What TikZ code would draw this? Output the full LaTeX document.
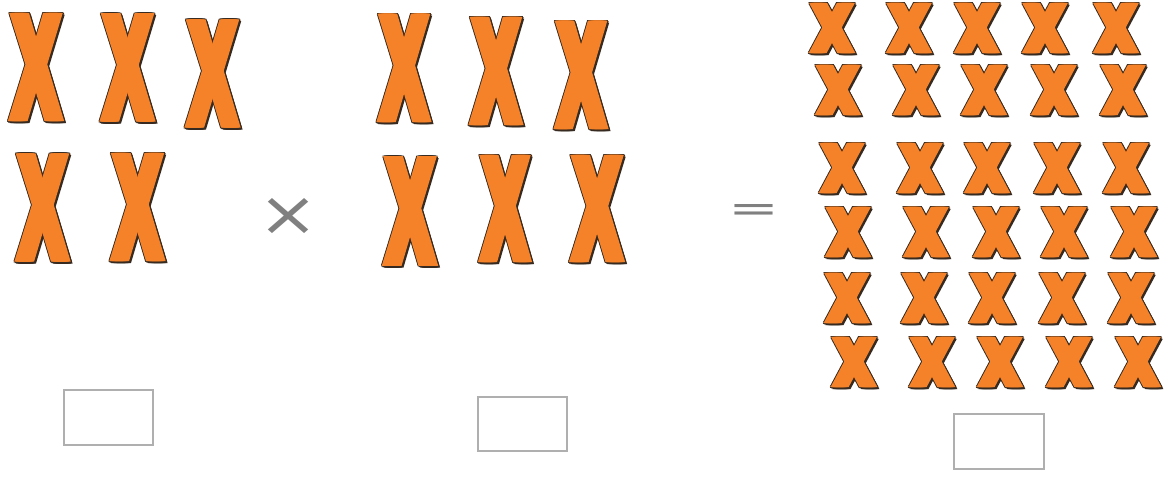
\documentclass[tikz,border=0pt]{standalone}
\usepackage{fontspec}
\setmainfont{Liberation Sans}
\newfontfamily\tallX{Liberation Sans Bold}[FakeBold=3.6]
\newfontfamily\wideX{DejaVu Sans Bold}[FakeBold=5]
\newfontfamily\signfont{DejaVu Sans}
\definecolor{xorange}{RGB}{245,130,40}
\definecolor{xdark}{RGB}{55,42,32}
\definecolor{signgray}{RGB}{128,128,128}
\definecolor{boxgray}{RGB}{175,175,175}
\tikzset{
  xface/.style={inner sep=0pt, outer sep=0pt, text=xorange},
  xshade/.style={inner sep=0pt, outer sep=0pt, text=xdark},
  answerbox/.style={draw=boxgray, line width=1.4pt, inner sep=0pt},
  signnode/.style={inner sep=0pt, text=signgray}
}
% name, x, y, w, h, font, horizontal spread
\newcommand\drawX[7]{%
  \foreach \sx [count=\j] in {-#7, -#7/2, 0, #7/2, #7}{%
    \foreach \dx/\dy [count=\k] in {1.9/1.9, 1.3/0.4, 0.4/1.3, -0.7/-0.7, 0.7/-0.7, -0.7/0.7}{%
      \node[xshade] (#1s\j-\k) at (#2+\sx+\dx,#3+\dy) {\resizebox{#4pt}{#5pt}{#6X}};}}
  \foreach \sx [count=\j] in {-#7, -#7/2, #7/2, #7}{%
    \node[xface] (#1f\j) at (#2+\sx,#3) {\resizebox{#4pt}{#5pt}{#6X}};}
  \node[xface] (#1) at (#2,#3) {\resizebox{#4pt}{#5pt}{#6X}};}
\begin{document}
\begin{tikzpicture}[x=1pt,y=-1pt]
\useasboundingbox[fill=white] (0,0) rectangle (1170,481);
% left group
\drawX{la}{36}{67}{47}{103}{\tallX}{3}
\drawX{lb}{127.5}{67.5}{47}{103}{\tallX}{3}
\drawX{lc}{212.5}{73.5}{47}{103}{\tallX}{3}
\drawX{ld}{42.5}{207.5}{47}{103}{\tallX}{3}
\drawX{le}{137.5}{207}{47}{103}{\tallX}{3}
% middle group
\drawX{ma}{404}{68}{46}{103}{\tallX}{3}
\drawX{mb}{496}{71}{46}{103}{\tallX}{3}
\drawX{mc}{581}{75}{46}{103}{\tallX}{3}
\drawX{md}{410}{211}{47}{104}{\tallX}{3}
\drawX{me}{505}{208.5}{45}{102}{\tallX}{3}
\drawX{mf}{597}{208.5}{47}{102}{\tallX}{3}
% right group: 6 rows x 5
\foreach \ry/\xa/\xb/\xc/\xd/\xe [count=\r] in {
  28/832/909/977/1045/1116,
  90/838/916/984/1054/1123,
  168/842/920/987/1057/1126,
  232/848/926/996/1064/1134,
  298/847/924/992/1062/1131,
  362/854/932/1000/1069/1138}{
  \foreach \cx [count=\c] in {\xa,\xb,\xc,\xd,\xe}{
    \drawX{r\r c\c}{\cx}{\ry}{39}{47}{\wideX}{2.5}
  }
}
% signs
\node[signnode] (times) at (288.5,216.5) {\resizebox{60pt}{37pt}{\signfont ×}};
\node[signnode] (equals) at (753.5,213.5) {\resizebox{51pt}{17pt}{\signfont =}};
% answer boxes
\node[answerbox, minimum width=89pt, minimum height=55pt] (boxa) at (108.5,417.5) {};
\node[answerbox, minimum width=89pt, minimum height=54pt] (boxb) at (522.5,424) {};
\node[answerbox, minimum width=90pt, minimum height=55pt] (boxc) at (999,441.5) {};
\end{tikzpicture}
\end{document}
